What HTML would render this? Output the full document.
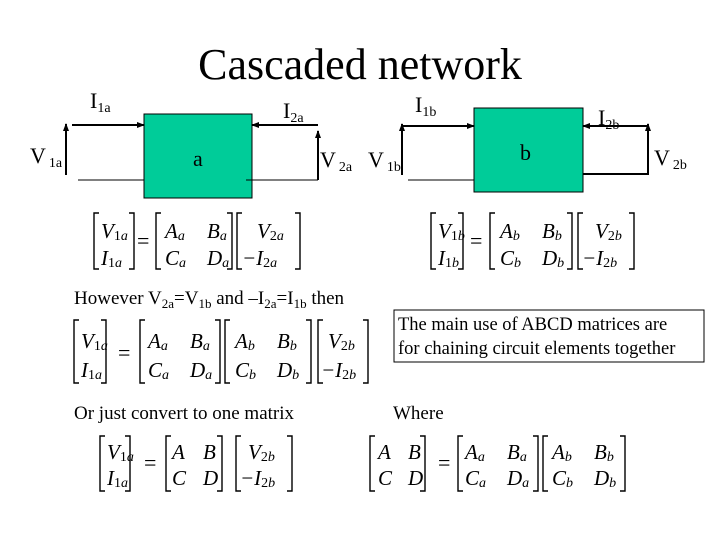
<!DOCTYPE html>
<html><head><meta charset="utf-8"><style>
html,body{margin:0;padding:0;background:#fff;}
svg{display:block;}
text{font-family:"Liberation Serif",serif;fill:#000;}
.m{font-style:italic;font-size:21px;}
.s{font-size:14px;}
.b{fill:none;stroke:#000;stroke-width:1.4;}
</style></head><body>
<svg width="720" height="540" viewBox="0 0 720 540">
<defs>
<marker id="ar" markerWidth="8" markerHeight="8" refX="7" refY="4" orient="auto" markerUnits="userSpaceOnUse"><path d="M0,1 L8,4 L0,7 z" fill="#000"/></marker>
</defs>
<text x="360" y="79" font-size="44" text-anchor="middle">Cascaded network</text>

<!-- box a -->
<rect x="144" y="114" width="108" height="84" fill="#00cc99" stroke="#000" stroke-width="1"/>
<text x="193" y="166" font-size="22">a</text>
<line x1="72" y1="125" x2="144" y2="125" stroke="#000" stroke-width="2" marker-end="url(#ar)"/>
<line x1="318" y1="125" x2="252" y2="125" stroke="#000" stroke-width="2" marker-end="url(#ar)"/>
<line x1="66" y1="175" x2="66" y2="124" stroke="#000" stroke-width="2" marker-end="url(#ar)"/>
<line x1="318" y1="180" x2="318" y2="131" stroke="#000" stroke-width="2" marker-end="url(#ar)"/>
<line x1="78" y1="180" x2="144" y2="180" stroke="#000" stroke-width="1"/>
<line x1="246" y1="180" x2="318" y2="180" stroke="#000" stroke-width="1"/>
<text x="90" y="108" font-size="22">I<tspan class="s" dy="4">1a</tspan></text>
<text x="283" y="118" font-size="22">I<tspan class="s" dy="4">2a</tspan></text>
<text x="30" y="163" font-size="22">V<tspan class="s" dy="4" dx="3">1a</tspan></text>
<text x="320" y="167" font-size="22">V<tspan class="s" dy="4" dx="3">2a</tspan></text>
<text x="368" y="167" font-size="22">V<tspan class="s" dy="4" dx="3">1b</tspan></text>

<!-- box b -->
<rect x="474" y="108" width="109" height="84" fill="#00cc99" stroke="#000" stroke-width="1"/>
<text x="520" y="160" font-size="22">b</text>
<polyline points="402,175 402,126 474,126" fill="none" stroke="#000" stroke-width="2" marker-end="url(#ar)"/>
<line x1="402" y1="140" x2="402" y2="124" stroke="#000" stroke-width="2" marker-end="url(#ar)"/>
<polyline points="583,174 648,174 648,126 583,126" fill="none" stroke="#000" stroke-width="2" marker-end="url(#ar)"/>
<line x1="648" y1="140" x2="648" y2="124" stroke="#000" stroke-width="2" marker-end="url(#ar)"/>
<line x1="408" y1="180" x2="474" y2="180" stroke="#000" stroke-width="1"/>
<text x="415" y="112" font-size="22">I<tspan class="s" dy="4">1b</tspan></text>
<text x="598" y="125" font-size="22">I<tspan class="s" dy="4">2b</tspan></text>
<text x="654" y="165" font-size="22">V<tspan class="s" dy="4" dx="3">2b</tspan></text>

<!-- eq a -->
<path class="b" d="M99,213H94V269H99 M129,213H134V269H129"/>
<text class="m" x="101" y="238">V<tspan class="s" dy="2" font-style="normal">1</tspan><tspan class="s">a</tspan></text>
<text class="m" x="101" y="265">I<tspan class="s" dy="2" font-style="normal">1</tspan><tspan class="s">a</tspan></text>
<text x="137" y="248" font-size="22">=</text>
<path class="b" d="M161,213H156V269H161 M227,213H232V269H227"/>
<text class="m" x="165" y="238">A<tspan class="s" dy="2">a</tspan></text>
<text class="m" x="207" y="238">B<tspan class="s" dy="2">a</tspan></text>
<text class="m" x="165" y="265">C<tspan class="s" dy="2">a</tspan></text>
<text class="m" x="207" y="265">D<tspan class="s" dy="2">a</tspan></text>
<path class="b" d="M242,213H237V269H242 M295,213H300V269H295"/>
<text class="m" x="257" y="238">V<tspan class="s" dy="2" font-style="normal">2</tspan><tspan class="s">a</tspan></text>
<text class="m" x="242" y="265">−I<tspan class="s" dy="2" font-style="normal">2</tspan><tspan class="s">a</tspan></text>

<!-- eq b -->
<path class="b" d="M436,213H431V269H436 M458,213H463V269H458"/>
<text class="m" x="438" y="238">V<tspan class="s" dy="2" font-style="normal">1</tspan><tspan class="s">b</tspan></text>
<text class="m" x="438" y="265">I<tspan class="s" dy="2" font-style="normal">1</tspan><tspan class="s">b</tspan></text>
<text x="470" y="248" font-size="22">=</text>
<path class="b" d="M495,213H490V269H495 M567,213H572V269H567"/>
<text class="m" x="500" y="238">A<tspan class="s" dy="2">b</tspan></text>
<text class="m" x="542" y="238">B<tspan class="s" dy="2">b</tspan></text>
<text class="m" x="500" y="265">C<tspan class="s" dy="2">b</tspan></text>
<text class="m" x="542" y="265">D<tspan class="s" dy="2">b</tspan></text>
<path class="b" d="M583,213H578V269H583 M629,213H634V269H629"/>
<text class="m" x="595" y="238">V<tspan class="s" dy="2" font-style="normal">2</tspan><tspan class="s">b</tspan></text>
<text class="m" x="582" y="265">−I<tspan class="s" dy="2" font-style="normal">2</tspan><tspan class="s">b</tspan></text>

<text x="74" y="304" font-size="19">However V<tspan font-size="13" dy="4">2a</tspan><tspan dy="-4">=V</tspan><tspan font-size="13" dy="4">1b</tspan><tspan dy="-4"> and –I</tspan><tspan font-size="13" dy="4">2a</tspan><tspan dy="-4">=I</tspan><tspan font-size="13" dy="4">1b</tspan><tspan dy="-4"> then</tspan></text>

<!-- eq 3 -->
<path class="b" d="M79,320H74V383H79 M101,320H106V383H101"/>
<text class="m" x="81" y="348">V<tspan class="s" dy="2" font-style="normal">1</tspan><tspan class="s">a</tspan></text>
<text class="m" x="81" y="377">I<tspan class="s" dy="2" font-style="normal">1</tspan><tspan class="s">a</tspan></text>
<text x="118" y="360" font-size="22">=</text>
<path class="b" d="M145,320H140V383H145 M215,320H220V383H215"/>
<text class="m" x="148" y="348">A<tspan class="s" dy="2">a</tspan></text>
<text class="m" x="190" y="348">B<tspan class="s" dy="2">a</tspan></text>
<text class="m" x="148" y="377">C<tspan class="s" dy="2">a</tspan></text>
<text class="m" x="190" y="377">D<tspan class="s" dy="2">a</tspan></text>
<path class="b" d="M230,320H225V383H230 M306,320H311V383H306"/>
<text class="m" x="235" y="348">A<tspan class="s" dy="2">b</tspan></text>
<text class="m" x="277" y="348">B<tspan class="s" dy="2">b</tspan></text>
<text class="m" x="235" y="377">C<tspan class="s" dy="2">b</tspan></text>
<text class="m" x="277" y="377">D<tspan class="s" dy="2">b</tspan></text>
<path class="b" d="M323,320H318V383H323 M363,320H368V383H363"/>
<text class="m" x="328" y="348">V<tspan class="s" dy="2" font-style="normal">2</tspan><tspan class="s">b</tspan></text>
<text class="m" x="321" y="377">−I<tspan class="s" dy="2" font-style="normal">2</tspan><tspan class="s">b</tspan></text>

<rect x="394" y="310" width="310" height="52" fill="none" stroke="#000" stroke-width="1"/>
<text x="398" y="330" font-size="18.5">The main use of ABCD matrices are</text>
<text x="398" y="354" font-size="18.5">for chaining circuit elements together</text>

<text x="74" y="419" font-size="19">Or just convert to one matrix</text>
<text x="393" y="419" font-size="19">Where</text>

<!-- eq 4 -->
<path class="b" d="M105,436H100V491H105 M125,436H130V491H125"/>
<text class="m" x="107" y="459">V<tspan class="s" dy="2" font-style="normal">1</tspan><tspan class="s">a</tspan></text>
<text class="m" x="107" y="485">I<tspan class="s" dy="2" font-style="normal">1</tspan><tspan class="s">a</tspan></text>
<text x="144" y="470" font-size="22">=</text>
<path class="b" d="M171,436H166V491H171 M217,436H222V491H217"/>
<text class="m" x="172" y="459">A</text>
<text class="m" x="203" y="459">B</text>
<text class="m" x="172" y="485">C</text>
<text class="m" x="203" y="485">D</text>
<path class="b" d="M241,436H236V491H241 M287,436H292V491H287"/>
<text class="m" x="248" y="459">V<tspan class="s" dy="2" font-style="normal">2</tspan><tspan class="s">b</tspan></text>
<text class="m" x="240" y="485">−I<tspan class="s" dy="2" font-style="normal">2</tspan><tspan class="s">b</tspan></text>

<!-- eq 5 -->
<path class="b" d="M375,436H370V491H375 M420,436H425V491H420"/>
<text class="m" x="378" y="459">A</text>
<text class="m" x="408" y="459">B</text>
<text class="m" x="378" y="485">C</text>
<text class="m" x="408" y="485">D</text>
<text x="438" y="470" font-size="22">=</text>
<path class="b" d="M463,436H458V491H463 M533,436H538V491H533"/>
<text class="m" x="465" y="459">A<tspan class="s" dy="2">a</tspan></text>
<text class="m" x="507" y="459">B<tspan class="s" dy="2">a</tspan></text>
<text class="m" x="465" y="485">C<tspan class="s" dy="2">a</tspan></text>
<text class="m" x="507" y="485">D<tspan class="s" dy="2">a</tspan></text>
<path class="b" d="M548,436H543V491H548 M620,436H625V491H620"/>
<text class="m" x="552" y="459">A<tspan class="s" dy="2">b</tspan></text>
<text class="m" x="594" y="459">B<tspan class="s" dy="2">b</tspan></text>
<text class="m" x="552" y="485">C<tspan class="s" dy="2">b</tspan></text>
<text class="m" x="594" y="485">D<tspan class="s" dy="2">b</tspan></text>
</svg>
</body></html>
